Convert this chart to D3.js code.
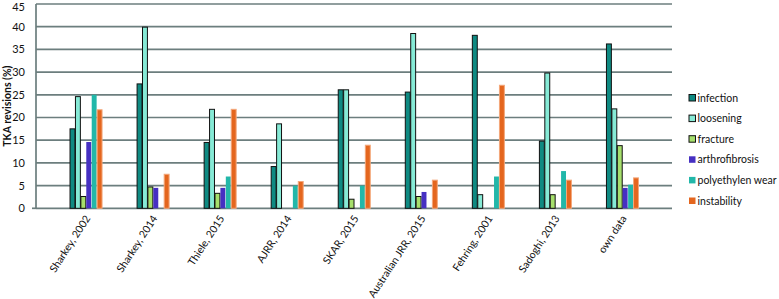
<!DOCTYPE html>
<html>
<head>
<meta charset="utf-8">
<script src="https://cdn.jsdelivr.net/npm/d3@7"></script>
<style>
  body { margin: 0; background: #fff; }
  svg { display: block; font-family: Lato, "Open Sans", sans-serif; }
</style>
</head>
<body>
<svg id="chart" width="779" height="299"></svg>
<script>
const categories = ['Sharkey, 2002', 'Sharkey, 2014', 'Thiele, 2015', 'AJRR, 2014', 'SKAR, 2015',
    'Australian JRR, 2015', 'Fehring, 2001', 'Sadoghi, 2013', 'own data'];

const seriesNames = ['infection', 'loosening', 'fracture', 'arthrofibrosis', 'polyethylen wear', 'instability'];

const infection      = [17.5, 27.4, 14.5, 9.2, 26.1, 25.6, 38.1, 14.8, 36.2];
const loosening      = [24.6, 39.9, 21.8, 18.6, 26.1, 38.5, 3.0, 29.8, 21.9];
const fracture       = [2.6, 4.7, 3.3, 0, 2.0, 2.6, 0, 3.0, 13.8];
const arthrofibrosis = [14.6, 4.5, 4.5, 0, 0, 3.6, 0, 0, 4.5];
const polyWear       = [25.0, 0, 7.0, 5.0, 5.0, 0, 7.0, 8.2, 5.2];
const instability    = [21.7, 7.5, 21.8, 5.9, 13.9, 6.2, 27.1, 6.2, 6.7];

const yTicks = [0, 5, 10, 15, 20, 25, 30, 35, 40, 45];

const seriesValues = [infection, loosening, fracture, arthrofibrosis, polyWear, instability];
const fills   = ['#0f8a82', '#86ead6', '#a6df6c', '#4630c2', '#22b7a9', '#e4661e'];
const strokes = ['#111', '#111', '#111', 'none', 'none', '#f3a77a'];

const svg = d3.select('#chart');
const plotLeft = 36, plotRight = 672, plotTop = 4, plotBottom = 208.3;

const x = d3.scaleBand()
    .domain(categories)
    .range([plotLeft, plotRight])
    .paddingInner(0.515)
    .paddingOuter(0.5);

const xInner = d3.scaleBand()
    .domain(seriesNames)
    .range([0, x.bandwidth()]);

const y = d3.scaleLinear()
    .domain([0, 45])
    .range([plotBottom, plotTop]);

// gridlines
svg.append('g')
    .selectAll('line')
    .data(yTicks)
    .join('line')
    .attr('x1', plotLeft).attr('x2', plotRight)
    .attr('y1', d => y(d)).attr('y2', d => y(d))
    .attr('stroke', '#6c7e7e')
    .attr('stroke-width', 1.7);

// y axis line
svg.append('line')
    .attr('x1', plotLeft).attr('x2', plotLeft)
    .attr('y1', plotTop).attr('y2', plotBottom)
    .attr('stroke', '#6c7e7e')
    .attr('stroke-width', 1.7);

svg.append('line')
    .attr('x1', plotLeft - 4).attr('x2', plotLeft)
    .attr('y1', plotBottom).attr('y2', plotBottom)
    .attr('stroke', '#6c7e7e')
    .attr('stroke-width', 1.7);

// y tick labels (top one nudged so it is not clipped by the edge)
svg.append('g')
    .selectAll('text')
    .data(yTicks)
    .join('text')
    .attr('x', 25)
    .attr('y', d => Math.max(y(d), 7))
    .attr('dy', '0.36em')
    .attr('text-anchor', 'end')
    .style('font-size', '11px')
    .style('fill', '#111')
    .text(d => d);

// y title
svg.append('text')
    .attr('transform', `translate(11, ${(plotTop + plotBottom) / 2}) rotate(-90)`)
    .attr('text-anchor', 'middle')
    .style('font-size', '10.5px')
    .style('font-weight', 'bold')
    .style('fill', '#111')
    .text('TKA revisions (%)');

// bars
const groups = svg.append('g')
    .selectAll('g')
    .data(categories)
    .join('g')
    .attr('transform', d => `translate(${x(d)},0)`);

groups.selectAll('rect')
    .data((c, ci) => seriesNames.map((s, si) => ({ s, si, v: seriesValues[si][ci] })))
    .join('rect')
    .filter(d => d.v > 0)
    .attr('x', d => xInner(d.s) + 0.5)
    .attr('y', d => y(d.v))
    .attr('width', xInner.bandwidth() - 0.5)
    .attr('height', d => plotBottom - y(d.v))
    .attr('fill', d => fills[d.si])
    .attr('stroke', d => strokes[d.si])
    .attr('stroke-width', 1);

// x labels
svg.append('g')
    .selectAll('text')
    .data(categories)
    .join('text')
    .attr('transform', d => `translate(${x(d) + x.bandwidth() / 2 + 5}, ${plotBottom + 10}) rotate(-57)`)
    .attr('text-anchor', 'end')
    .style('font-size', '10.5px')
    .style('fill', '#111')
    .text(d => d);

// legend
const legend = svg.append('g')
    .selectAll('g')
    .data(seriesNames)
    .join('g')
    .attr('transform', (d, i) => `translate(689, ${98 + i * 20.6})`);

legend.append('rect')
    .attr('x', 0).attr('y', -3.5)
    .attr('width', 6.5).attr('height', 6.5)
    .attr('fill', (d, i) => fills[i])
    .attr('stroke', (d, i) => i < 3 ? '#111' : 'none')
    .attr('stroke-width', 1);

legend.append('text')
    .attr('x', 8.5)
    .attr('dy', '0.35em')
    .style('font-size', '10.5px')
    .style('fill', '#111')
    .text(d => d);
</script>
</body>
</html>
